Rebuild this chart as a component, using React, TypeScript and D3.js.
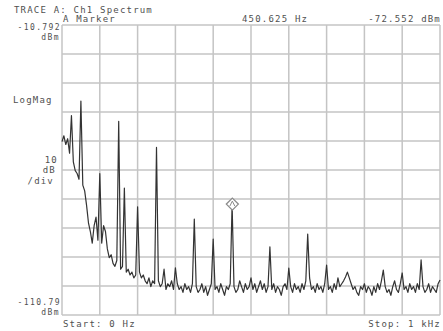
import React, { useEffect, useRef } from 'react';
import * as d3 from 'd3';

// spectrum trace, one value every 5 Hz from 0 Hz to 1 kHz (dBm)
const traceStepHz = 5;
const traceDbm = [
  -51, -49, -52, -50, -55, -42, -58, -61, -62, -64,
  -37, -66, -68, -73, -79, -82, -86, -80, -77, -85,
  -62, -86, -80, -82, -88, -91, -90, -93, -94, -92,
  -44, -95, -94, -67, -96, -95, -97, -96, -98, -97,
  -73.5, -96, -98, -97, -99, -100, -98, -101, -99, -100,
  -53, -99, -101, -100, -95, -102, -100, -101, -99, -102,
  -94.5, -100, -102, -101, -103, -100, -102, -101, -103, -100,
  -77.7, -101, -103, -102, -100, -103, -101, -104, -102, -100,
  -84.6, -102, -101, -103, -100, -102, -104, -101, -102, -100,
  -72.552, -101, -103, -102, -99, -101, -103, -100, -102, -101,
  -98, -102, -100, -103, -101, -99, -102, -100, -103, -101,
  -87.3, -102, -100, -103, -101, -102, -104, -101, -100, -102,
  -94.6, -101, -103, -100, -102, -101, -103, -100, -102, -99,
  -82.9, -98, -102, -101, -103, -100, -102, -101, -103, -100,
  -93.6, -102, -101, -103, -100, -102, -98, -101, -100, -99,
  -97.7, -96, -98, -100, -102, -101, -103, -104, -101, -102,
  -100, -103, -101, -102, -104, -101, -103, -100, -102, -99,
  -95.3, -101, -103, -102, -104, -101, -99, -102, -103, -100,
  -96.3, -102, -101, -103, -100, -102, -101, -103, -100, -102,
  -91.8, -101, -103, -102, -100, -103, -101, -102, -103, -100,
  -98.7,
];

const startHz = 0;
const stopHz = 1000;
const refTopDbm = -10.792;
const refBottomDbm = -110.792;
const divisions = 10;

const markerHz = 450.625;
const markerDbm = -72.552;

const App = () => {
  const ref = useRef(null);

  useEffect(() => {
    const svg = d3.select(ref.current);
    svg.selectAll('*').remove();

    const margin = { top: 25, right: 3, bottom: 16, left: 62 };
    const W = 443, H = 331;
    const width = W - margin.left - margin.right;
    const height = H - margin.top - margin.bottom;

    const x = d3.scaleLinear().domain([startHz, stopHz]).range([margin.left, margin.left + width]);
    const y = d3.scaleLinear().domain([refBottomDbm, refTopDbm]).range([margin.top + height, margin.top]);

    svg.append('rect').attr('width', W).attr('height', H).attr('fill', '#fff');

    // grid
    const g = svg.append('g').attr('stroke', '#c4c4c4').attr('stroke-width', 1.5);
    d3.range(divisions + 1).forEach(i => {
      const fx = startHz + (stopHz - startHz) * i / divisions;
      const fy = refBottomDbm + (refTopDbm - refBottomDbm) * i / divisions;
      g.append('line').attr('x1', x(fx)).attr('x2', x(fx)).attr('y1', y(refTopDbm)).attr('y2', y(refBottomDbm));
      g.append('line').attr('y1', y(fy)).attr('y2', y(fy)).attr('x1', x(startHz)).attr('x2', x(stopHz));
    });

    // trace
    const line = d3.line<number>()
      .x((d, i) => x(startHz + i * traceStepHz))
      .y(d => y(d));
    svg.append('path')
      .datum(traceDbm)
      .attr('d', line)
      .attr('fill', 'none')
      .attr('stroke', '#333')
      .attr('stroke-width', 1.2)
      .attr('stroke-linejoin', 'round');

    // marker
    const mx = x(markerHz), my = y(markerDbm);
    svg.append('path')
      .attr('d', `M${mx},${my - 6}L${mx + 6},${my}L${mx},${my + 6}L${mx - 6},${my}Z`)
      .attr('fill', '#fff')
      .attr('stroke', '#8a8a8a')
      .attr('stroke-width', 1.3);
    svg.append('path')
      .attr('d', `M${mx - 2.5},${my + 2}L${mx},${my - 3}L${mx + 2.5},${my + 2}`)
      .attr('fill', 'none')
      .attr('stroke', '#8a8a8a')
      .attr('stroke-width', 1);

    // text
    const txt = (tx, ty, s, anchor = 'start', size = 9) =>
      svg.append('text')
        .attr('x', tx).attr('y', ty)
        .attr('text-anchor', anchor)
        .attr('font-family', 'DejaVu Sans Mono, monospace')
        .attr('font-size', size)
        .attr('letter-spacing', size === 9 ? 1.2 : 1.4)
        .attr('fill', '#505050')
        .text(s);

    txt(14, 13, 'TRACE A: Ch1 Spectrum');
    txt(63, 22, 'A Marker');
    txt(242, 22, `${markerHz.toFixed(3)} Hz`);
    txt(441, 22, `${markerDbm.toFixed(3)} dBm`, 'end');
    txt(61, 30, refTopDbm.toFixed(3), 'end', 8);
    txt(60, 40, 'dBm', 'end', 8);
    txt(13, 103, 'LogMag');
    txt(58, 163, '10', 'end');
    txt(56, 173, 'dB', 'end');
    txt(54, 184, '/div', 'end');
    txt(61, 304.5, refBottomDbm.toFixed(2), 'end', 8);
    txt(60, 314.5, 'dBm', 'end', 8);
    txt(63, 327, 'Start: 0 Hz');
    txt(441, 327, 'Stop: 1 kHz', 'end');
  }, []);

  return (
    <svg
      ref={ref}
      width={443}
      height={331}
      style={{ position: 'absolute', left: 0, top: 0 }}
    />
  );
};

export default App;
